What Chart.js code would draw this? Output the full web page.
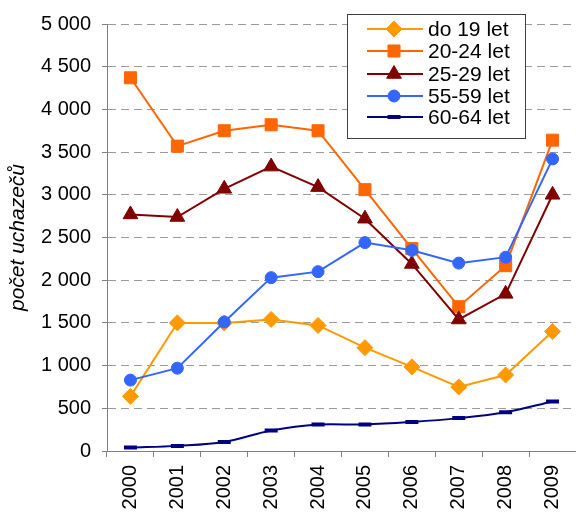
<!DOCTYPE html>
<html>
<head>
<meta charset="utf-8">
<script src="https://cdn.jsdelivr.net/npm/chart.js"></script>
<style>
  html, body { margin: 0; padding: 0; background: #fff; }
  canvas { display: block; }
</style>
</head>
<body>
<canvas id="uchazeci" width="576" height="513"></canvas>
<script>
const years = ["2000", "2001", "2002", "2003", "2004", "2005", "2006", "2007", "2008", "2009"];
const do19 = [640, 1500, 1500, 1540, 1470, 1210, 985, 750, 890, 1400];
const age20_24 = [4370, 3570, 3750, 3820, 3750, 3060, 2370, 1690, 2170, 3640];
const age25_29 = [2770, 2740, 3070, 3330, 3090, 2720, 2190, 1540, 1840, 3000];
const age55_59 = [830, 970, 1510, 2030, 2100, 2440, 2350, 2200, 2270, 3420];
const age60_64 = [40, 60, 105, 240, 310, 310, 340, 385, 455, 580];
const seriesNames = ["do 19 let", "20-24 let", "25-29 let", "55-59 let", "60-64 let"];

const FONT = "'Liberation Sans', Arial, sans-serif";

function fmt(v) {
  if (v < 1000) return String(v);
  const th = Math.floor(v / 1000);
  const rest = String(v % 1000).padStart(3, "0");
  return th + " " + rest;
}

function series(i, data, color, style, radius, extra) {
  return Object.assign({
    label: seriesNames[i],
    data: data,
    borderColor: color,
    backgroundColor: color,
    borderWidth: 2,
    pointStyle: style,
    pointRadius: radius,
    pointHoverRadius: radius,
    pointBackgroundColor: color,
    pointBorderColor: color,
    pointBorderWidth: 1,
    tension: 0,
    order: 4 - i
  }, extra || {});
}

// legend box drawn inside the plot, like the original (drawn before the lines)
const boxLegend = {
  id: "boxLegend",
  beforeDatasetsDraw(chart) {
    const ctx = chart.ctx;
    const x0 = 347, y0 = 14, w = 178, h = 124;
    ctx.save();
    ctx.fillStyle = "#fff";
    ctx.fillRect(x0, y0, w, h);
    ctx.strokeStyle = "#404040";
    ctx.lineWidth = 1;
    ctx.strokeRect(x0 + 0.5, y0 + 0.5, w, h);
    const rows = [29, 51, 74, 96, 117];
    chart.data.datasets.forEach((ds, i) => {
      const y = rows[i];
      ctx.strokeStyle = ds.borderColor;
      ctx.lineWidth = 2;
      ctx.beginPath();
      ctx.moveTo(367, y);
      ctx.lineTo(423, y);
      ctx.stroke();
      ctx.fillStyle = ds.pointBackgroundColor;
      ctx.strokeStyle = ds.pointBorderColor;
      ctx.lineWidth = ds.pointBorderWidth;
      Chart.helpers.drawPoint(ctx, {
        pointStyle: ds.pointStyle,
        radius: ds.pointRadius,
        rotation: 0,
        borderWidth: ds.pointBorderWidth
      }, 394, y);
      ctx.fillStyle = "#000";
      ctx.font = "21px " + FONT;
      ctx.textBaseline = "middle";
      ctx.textAlign = "left";
      ctx.fillText(ds.label, 428, y + 1);
    });
    ctx.restore();
  }
};

new Chart(document.getElementById("uchazeci"), {
  type: "line",
  data: {
    labels: years,
    datasets: [
      series(0, do19, "#FF9900", "rectRot", 8),
      series(1, age20_24, "#FF6600", "rect", 8.5),
      series(2, age25_29, "#800000", "triangle", 8.5),
      series(3, age55_59, "#3366FF", "circle", 6),
      series(4, age60_64, "#000080", "line", 6.5, { pointBorderWidth: 4, tension: 0.35 })
    ]
  },
  options: {
    responsive: false,
    animation: false,
    layout: { autoPadding: false, padding: { top: 24, right: 0, left: 0, bottom: 0 } },
    plugins: {
      legend: { display: false },
      tooltip: { enabled: false }
    },
    scales: {
      x: {
        offset: true,
        grid: {
          offset: true,
          drawOnChartArea: false,
          drawTicks: true,
          tickLength: 6,
          color: "#808080"
        },
        border: { color: "#808080", width: 1 },
        ticks: {
          color: "#000",
          font: { family: FONT, size: 20 },
          minRotation: 90,
          maxRotation: 90,
          padding: 8
        },
        afterFit(scale) {
          scale.height = 62;
          scale.paddingLeft = 0;
          scale.paddingRight = 0;
        }
      },
      y: {
        min: 0,
        max: 5000,
        grid: {
          color: "#9a9a9a",
          tickLength: 5,
          tickColor: "#808080",
          tickBorderDash: [],
          drawTicks: true
        },
        border: { color: "#808080", width: 1, dash: [8, 5] },
        ticks: {
          stepSize: 500,
          color: "#000",
          font: { family: FONT, size: 20 },
          padding: 11,
          callback: (v) => fmt(v)
        },
        title: {
          display: true,
          text: "počet uchazečů",
          color: "#000",
          font: { family: FONT, size: 21, style: "italic" },
          padding: { top: 6, bottom: 0 }
        },
        afterFit(scale) {
          scale.width = 107;
          scale.paddingTop = 0;
          scale.paddingBottom = 0;
        }
      }
    }
  },
  plugins: [boxLegend]
});
</script>
</body>
</html>
